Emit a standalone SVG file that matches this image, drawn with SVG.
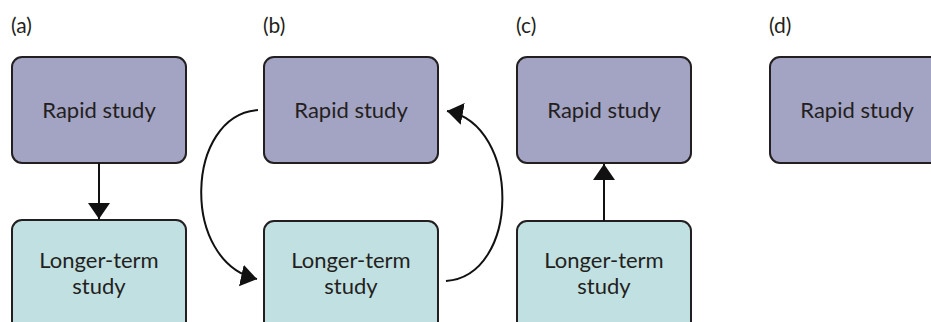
<svg xmlns="http://www.w3.org/2000/svg" width="931" height="322" viewBox="0 0 931 322">
<defs>
<style>
.rapid{fill:#a3a3c3;stroke:#231f20;stroke-width:2}
.longer{fill:#c1e0e1;stroke:#231f20;stroke-width:2}
text{font-family:Lato,"Open Sans","Liberation Sans",sans-serif;fill:#231f20}
.lbl{font-size:22px;text-anchor:middle}
.panel{font-size:21px}
.conn{fill:none;stroke:#111;stroke-width:2}
</style>
<marker id="ah" markerUnits="userSpaceOnUse" markerWidth="20" markerHeight="24" refX="16" refY="11" orient="auto" viewBox="0 0 20 22">
<path d="M0,0 L16,11 L0,22 Z" fill="#111"/>
</marker>
</defs>
<g id="panel-labels">
<text class="panel" x="11" y="33">(a)</text>
<text class="panel" x="263" y="33">(b)</text>
<text class="panel" x="516" y="33">(c)</text>
<text class="panel" x="769" y="33">(d)</text>
</g>
<g id="a-rapid"><rect class="rapid" x="12" y="57" width="174" height="106" rx="10"/><text class="lbl" x="99" y="118">Rapid study</text></g>
<g id="a-longer"><rect class="longer" x="12" y="220" width="174" height="120" rx="10"/><text class="lbl" x="99" y="268">Longer-term</text><text class="lbl" x="99" y="294">study</text></g>
<g id="b-rapid"><rect class="rapid" x="264" y="57" width="174" height="106" rx="10"/><text class="lbl" x="351" y="118">Rapid study</text></g>
<g id="b-longer"><rect class="longer" x="264" y="221" width="174" height="120" rx="10"/><text class="lbl" x="351" y="268">Longer-term</text><text class="lbl" x="351" y="294">study</text></g>
<g id="c-rapid"><rect class="rapid" x="517" y="57" width="174" height="106" rx="10"/><text class="lbl" x="604" y="118">Rapid study</text></g>
<g id="c-longer"><rect class="longer" x="517" y="221" width="174" height="120" rx="10"/><text class="lbl" x="604" y="268">Longer-term</text><text class="lbl" x="604" y="294">study</text></g>
<g id="d-rapid"><rect class="rapid" x="770" y="57" width="174" height="106" rx="10"/><text class="lbl" x="857" y="118">Rapid study</text></g>
<g id="connectors">
<path class="conn" d="M99,163 L99,219" marker-end="url(#ah)"/>
<path class="conn" d="M258,110 C185,115 180,262 257,279" marker-end="url(#ah)"/>
<path class="conn" d="M446,281 C520,276 522,125 447,111" marker-end="url(#ah)"/>
<path class="conn" d="M604,221 L604,164" marker-end="url(#ah)"/>
</g>
</svg>
